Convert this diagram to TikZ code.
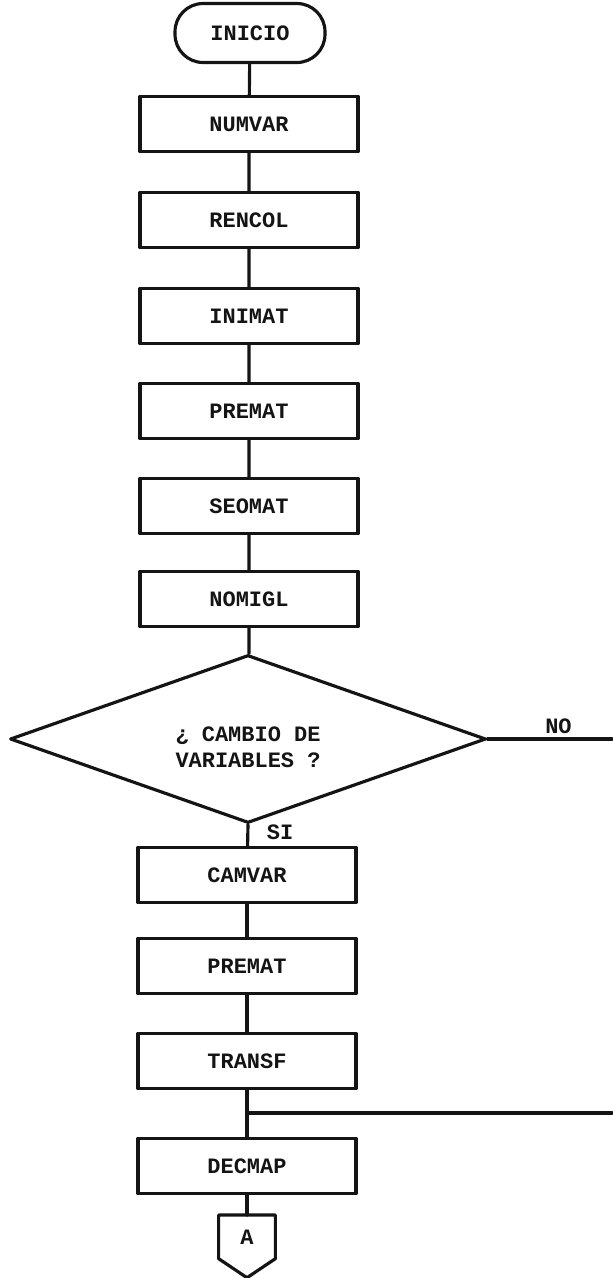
\documentclass[tikz,border=0pt]{standalone}
\usepackage{fontspec}
\setmonofont{Liberation Mono}
\usepackage{tikz}
\usetikzlibrary{calc,shapes.geometric}
\definecolor{fcInk}{HTML}{141414}
\tikzset{
  fc diagram/.style={x=0.02cm, y=-0.02cm,
    font=\ttfamily\bfseries\fontsize{12.5}{15}\selectfont, text=fcInk,
    line cap=round, line join=round},
  fc line/.style={draw=fcInk, line width=1.8pt},
  fc box/.style={fc line, rectangle, minimum width=4.36cm,
    minimum height=1.1cm, inner sep=2pt},
  fc start/.style={fc line, rectangle, rounded corners=16pt,
    minimum width=3.0cm, minimum height=1.18cm},
  fc decision/.style={fc line, diamond, aspect=2.83, minimum width=9.52cm,
    minimum height=3.36cm, inner sep=0pt, align=center},
  fc connector/.style={minimum width=1.12cm, minimum height=0.86cm,
    inner sep=0pt},
  fc label/.style={inner sep=1pt}
}

\begin{document}
\begin{tikzpicture}[fc diagram]
\useasboundingbox (0,0) rectangle (612,1278);
\node[fc start] (start) at (250,33) {INICIO};
\node[fc box] (numvar) at (249,124) {NUMVAR};
\node[fc box] (rencol) at (249,220) {RENCOL};
\node[fc box] (inimat) at (249,316) {INIMAT};
\node[fc box] (premat) at (249,411) {PREMAT};
\node[fc box] (seomat) at (249,506) {SEOMAT};
\node[fc box] (nomigl) at (249,599) {NOMIGL};
\node[fc decision] (cambio) at (248,739) {\rule{0pt}{0.62cm}¿ CAMBIO DE\\VARIABLES ?};
\node[fc box] (camvar) at (247,875) {CAMVAR};
\node[fc box] (prematb) at (247,966) {PREMAT};
\node[fc box] (transf) at (247,1061) {TRANSF};
\node[fc box] (decmap) at (247,1166) {DECMAP};
\node[fc connector, anchor=north] (conA) at (247,1215) {A};
\coordinate (conTip) at ($(conA.south)+(0,19)$);
\coordinate (noEnd) at (612,739);
\coordinate (join) at (247,1113);
\coordinate (joinEnd) at (612,1113);
% off-page connector
\draw[fc line] (conA.north west) -- (conA.north east) -- (conA.south east)
  -- (conTip) -- (conA.south west) -- cycle;
% main line
\draw[fc line] (start) -- (numvar) -- (rencol) -- (inimat) -- (premat)
  -- (seomat) -- (nomigl) -- (nomigl.south |- cambio.north);
\draw[fc line] (cambio.south) -- node[fc label, right=9pt, pos=0.37] {SI} (camvar);
\draw[fc line] (camvar) -- (prematb) -- (transf) -- (join) -- (decmap) -- (conA);
% NO branch
\draw[fc line] (cambio.east) -- node[fc label, above=1pt, pos=0.57] {NO} (noEnd);
\draw[fc line] (join) -- (joinEnd);
\end{tikzpicture}
\end{document}
